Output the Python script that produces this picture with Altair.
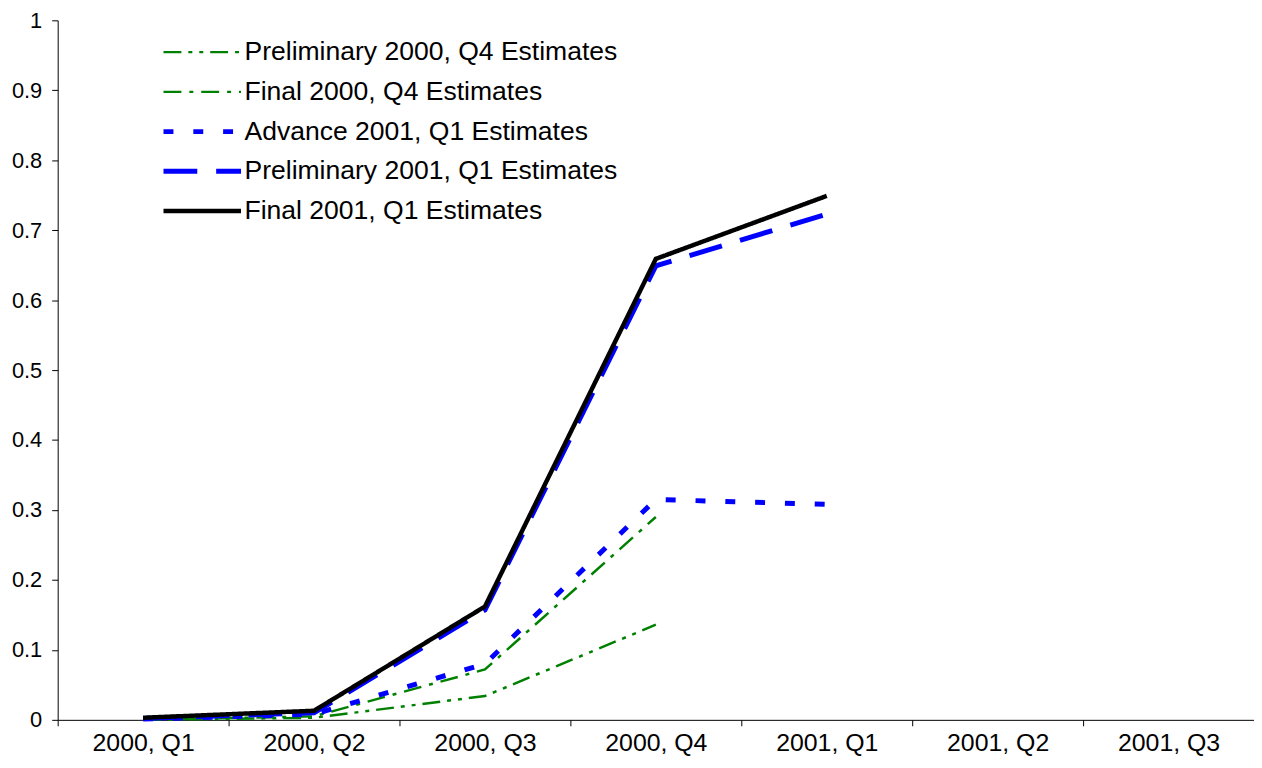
import altair as alt
import pandas as pd

# Categories (x axis)
quarters = ["2000, Q1", "2000, Q2", "2000, Q3", "2000, Q4", "2001, Q1", "2001, Q2", "2001, Q3"]

# Series names (legend order)
series_names = [
    "Preliminary 2000, Q4 Estimates",
    "Final 2000, Q4 Estimates",
    "Advance 2001, Q1 Estimates",
    "Preliminary 2001, Q1 Estimates",
    "Final 2001, Q1 Estimates",
]

# Series values
prelim_2000_q4 = [0.000, 0.003, 0.034, 0.136]
final_2000_q4 = [0.000, 0.005, 0.072, 0.290]
advance_2001_q1 = [0.001, 0.008, 0.080, 0.315, 0.308]
prelim_2001_q1 = [0.002, 0.010, 0.157, 0.649, 0.723]
final_2001_q1 = [0.003, 0.013, 0.162, 0.659, 0.749]

# Y tick labels
y_ticks = [0, 0.1, 0.2, 0.3, 0.4, 0.5, 0.6, 0.7, 0.8, 0.9, 1]

# Styles
series_colors = ["#008000", "#008000", "#0000FF", "#0000FF", "#000000"]
series_dashes = [[18, 7, 4, 7, 4, 7], [18, 8, 4, 8], [10, 20], [34, 19], [1, 0]]
series_widths = [2.5, 2.5, 5, 5, 4.5]

all_values = [prelim_2000_q4, final_2000_q4, advance_2001_q1, prelim_2001_q1, final_2001_q1]
rows = []
for name, vals in zip(series_names, all_values):
    for q, v in zip(quarters, vals):
        rows.append({"quarter": q, "value": v, "series": name})
df = pd.DataFrame(rows)

FONT = "Liberation Sans"

chart = (
    alt.Chart(df)
    .mark_line()
    .encode(
        x=alt.X(
            "quarter:N",
            bandPosition=0.5,
            scale=alt.Scale(type="band", domain=quarters, paddingInner=0, paddingOuter=0),
            axis=alt.Axis(
                title=None,
                labelAngle=0,
                tickBand="extent",
                tickSize=6,
                labelPadding=5,
                labelFontSize=25,
            ),
            sort=quarters,
        ),
        y=alt.Y(
            "value:Q",
            scale=alt.Scale(domain=[0, 1], nice=False, zero=True),
            axis=alt.Axis(
                title=None,
                values=y_ticks,
                format="~g",
                tickSize=6,
                labelPadding=10,
                labelFontSize=22,
            ),
        ),
        color=alt.Color(
            "series:O",
            sort=series_names,
            scale=alt.Scale(domain=series_names, range=series_colors),
            legend=alt.Legend(title=None),
        ),
        strokeDash=alt.StrokeDash(
            "series:O",
            sort=series_names,
            scale=alt.Scale(domain=series_names, range=series_dashes),
            legend=alt.Legend(title=None),
        ),
        strokeWidth=alt.StrokeWidth(
            "series:O",
            sort=series_names,
            scale=alt.Scale(type="ordinal", domain=series_names, range=series_widths),
            legend=alt.Legend(title=None),
        ),
    )
    .properties(
        width=1204,
        height=704,
        padding={"left": 50, "top": 10, "right": 0, "bottom": 36},
        autosize=alt.AutoSizeParams(type="none"),
    )
    .configure_view(stroke=None)
    .configure_axis(
        grid=False,
        labelFont=FONT,
        labelColor="#000000",
        domainColor="#000000",
        tickColor="#000000",
        domainWidth=1,
        tickWidth=1,
    )
    .configure_legend(
        orient="none",
        legendX=104,
        legendY=12,
        padding=0,
        symbolType="stroke",
        symbolSize=6084,
        clipHeight=40,
        labelFont=FONT,
        labelFontSize=26.7,
        labelColor="#000000",
        labelLimit=600,
        labelOffset=1,
        rowPadding=0,
    )
)

chart.save("out.html", embed_options={"renderer": "svg", "actions": False})
